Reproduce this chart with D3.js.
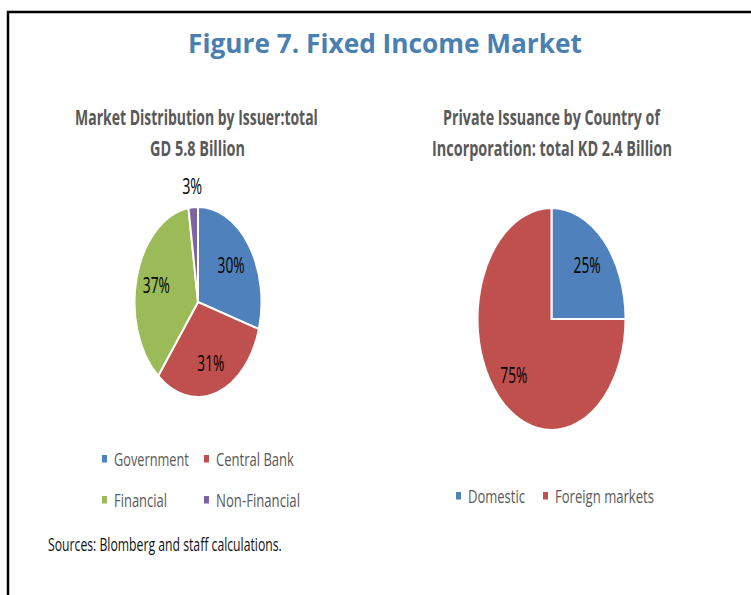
<!DOCTYPE html>
<html>
<head>
<meta charset="utf-8">
<script src="https://cdn.jsdelivr.net/npm/d3@7"></script>
<style>
  body { margin: 0; background: #fff; }
  svg { display: block; font-family: "Open Sans", "Noto Sans", sans-serif; }
</style>
</head>
<body>
<svg id="chart" width="751" height="595"></svg>
<script>
// data
const issuerCategories = ['Government', 'Central Bank', 'Financial', 'Non-Financial'];
const issuerValues = [29.6, 31.2, 36.8, 2.4];
const issuerLabels = ['30%', '31%', '37%', '3%'];

const countryCategories = ['Domestic', 'Foreign markets'];
const countryValues = [25, 75];
const countryLabels = ['25%', '75%'];

const colors = ['#4F81BD', '#C0504D', '#9BBB59', '#8064A2'];

// measured text widths (the picture is squeezed horizontally)
const textWidth = {
    'Government': 75, 'Central Bank': 78, 'Financial': 53, 'Non-Financial': 84,
    'Domestic': 57, 'Foreign markets': 99
};

const svg = d3.select('#chart');

// frame
svg.append('path')
    .attr('d', 'M8,595 V12 H751')
    .attr('fill', 'none')
    .attr('stroke', '#000')
    .attr('stroke-width', 2.5);

// text is set at full height, then squeezed in x to the measured width
function addText(x, y, str, opts) {
    const g = svg.append('g');
    const t = g.append('text')
        .attr('text-anchor', opts.anchor || 'start')
        .attr('font-size', opts.size)
        .attr('font-weight', opts.weight || 'normal')
        .attr('fill', opts.color || '#000')
        .text(str);
    let sx = 1;
    if (opts.width) {
        sx = opts.width / t.node().getComputedTextLength();
    }
    g.attr('transform', `translate(${x},${y}) scale(${sx},1)`);
    return t;
}

// title
addText(385, 53, 'Figure 7. Fixed Income Market',
    { anchor: 'middle', size: 26, weight: 'bold', color: '#4A7FB1', width: 394 });

// subtitles
addText(196.5, 125, 'Market Distribution by Issuer:total',
    { anchor: 'middle', size: 20.5, weight: 'bold', color: '#595959', width: 243 });
addText(197.5, 156, 'GD 5.8 Billion',
    { anchor: 'middle', size: 20.5, weight: 'bold', color: '#595959', width: 95 });
addText(551.5, 125, 'Private Issuance by Country of',
    { anchor: 'middle', size: 20.5, weight: 'bold', color: '#595959', width: 217 });
addText(552, 156, 'Incorporation: total KD 2.4 Billion',
    { anchor: 'middle', size: 20.5, weight: 'bold', color: '#595959', width: 240 });

// elliptical pie: drawn on a circle of radius ry, then squeezed in x
function drawPie(cfg) {
    const pie = d3.pie().sort(null).value(d => d)(cfg.values);
    const arc = d3.arc().innerRadius(0).outerRadius(cfg.ry);
    const sx = cfg.rx / cfg.ry;

    const g = svg.append('g')
        .attr('transform', `translate(${cfg.cx},${cfg.cy}) scale(${sx},1)`);
    g.selectAll('path')
        .data(pie)
        .enter()
        .append('path')
        .attr('d', arc)
        .attr('fill', (d, i) => cfg.colors[i])
        .attr('stroke', '#fff')
        .attr('stroke-width', 2)
        .attr('vector-effect', 'non-scaling-stroke');

    // labels along the mid angle, scaled to the ellipse
    pie.forEach((d, i) => {
        const a = (d.startAngle + d.endAngle) / 2;
        const k = cfg.labelK[i];
        const x = cfg.cx + k * cfg.rx * Math.sin(a);
        const y = cfg.cy - k * cfg.ry * Math.cos(a);
        addText(x, y + 7.5, cfg.labels[i],
            { anchor: 'middle', size: 21, color: '#000', width: cfg.labels[i].length === 2 ? 20 : 27 });
    });
}

drawPie({
    values: issuerValues, labels: issuerLabels, colors: colors,
    cx: 198, cy: 302, rx: 63.5, ry: 95,
    labelK: [0.65, 0.68, 0.68, 1.22]
});

drawPie({
    values: countryValues, labels: countryLabels, colors: colors,
    cx: 551.5, cy: 319, rx: 74, ry: 111,
    labelK: [0.68, 0.72]
});

// legends
function drawLegend(items, xs, ys) {
    items.forEach((name, i) => {
        const x = xs[i % xs.length];
        const y = ys[Math.floor(i / xs.length)];
        svg.append('rect')
            .attr('x', x)
            .attr('y', y - 4)
            .attr('width', 5)
            .attr('height', 7.5)
            .attr('fill', colors[i]);
        addText(x + 12, y + 7, name,
            { size: 18.5, color: '#595959', width: textWidth[name] });
    });
}

drawLegend(issuerCategories, [102, 204], [459, 500]);
drawLegend(countryCategories, [456, 543], [496]);

// source note
addText(48, 551, 'Sources: Blomberg and staff calculations.',
    { size: 18, color: '#111', width: 234 });
</script>
</body>
</html>
